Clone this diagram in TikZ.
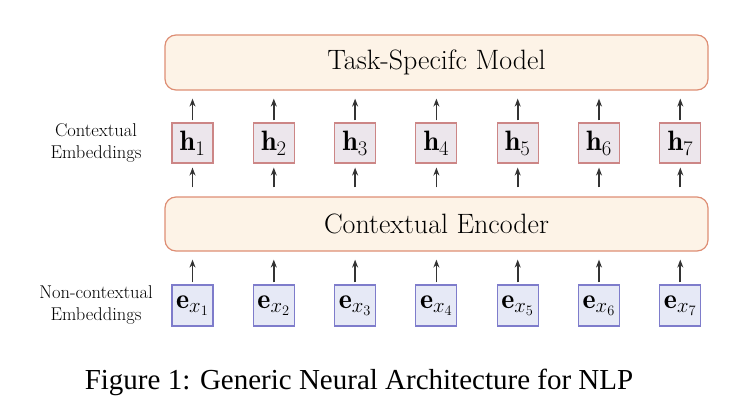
\documentclass[tikz,border=0pt]{standalone}
\usepackage{fontspec}
\newfontfamily\capfont{Liberation Serif}
\usetikzlibrary{arrows.meta}
\definecolor{bigfill}{HTML}{FDF3E7}
\definecolor{bigdraw}{HTML}{DE8E74}
\definecolor{hfill}{HTML}{ECE6EC}
\definecolor{hdraw}{HTML}{CC8686}
\definecolor{efill}{HTML}{E6E9F6}
\definecolor{edraw}{HTML}{7E7CCB}
\definecolor{arrcol}{HTML}{333333}
\tikzset{
  bigbox/.style={draw=bigdraw, fill=bigfill, line width=1.2pt, rounded corners=11pt,
    minimum width=543pt, minimum height=55pt, inner sep=0pt, font=\fontsize{28}{33}\selectfont},
  hbox/.style={draw=hdraw, fill=hfill, line width=1.1pt, minimum width=41pt, minimum height=40pt,
    inner sep=0pt, font=\fontsize{28}{33}\selectfont},
  ebox/.style={draw=edraw, fill=efill, line width=1.1pt, minimum width=41pt, minimum height=41pt,
    inner sep=0pt, font=\fontsize{28}{33}\selectfont},
  sidelabel/.style={align=center, font=\fontsize{18.5}{22}\selectfont},
  arr/.style={draw=arrcol, line width=1.8pt, -{Stealth[length=8pt,width=6pt]}},
}
\begin{document}
\begin{tikzpicture}[x=1pt, y=-1pt]
  \useasboundingbox (0,0) rectangle (739,412);

  % task-specific model and encoder
  \node[bigbox] (task) at (436.5,62.5) {Task-Specifc Model};
  \node[bigbox, minimum height=54pt] (enc) at (436.5,224) {Contextual Encoder};

  % embedding rows
  \foreach \i in {1,...,7} {
    \pgfmathsetmacro{\xx}{192.5+81.3*(\i-1)}
    \node[hbox] (h\i) at (\xx,143) {$\mathbf{h}_{\i}$};
    \node[ebox] (e\i) at (\xx,305.5) {$\mathbf{e}_{x_{\i}}$};
    \draw[arr, shorten <=2pt, shorten >=8pt] (e\i.north) -- (e\i |- enc.south);
    \draw[arr, shorten <=9pt, shorten >=4pt] (h\i |- enc.north) -- (h\i.south);
    \draw[arr, shorten <=2pt, shorten >=8pt] (h\i.north) -- (h\i |- task.south);
  }

  % row labels
  \node[sidelabel] (lctx) at (96,142.5) {Contextual\\Embeddings};
  \node[sidelabel] (lnon) at (96,304.5) {Non-contextual\\Embeddings};

  % caption
  \node[font=\capfont\fontsize{29}{34}\selectfont] (cap) at (359,382)
    {Figure 1: Generic Neural Architecture for NLP};
\end{tikzpicture}
\end{document}
